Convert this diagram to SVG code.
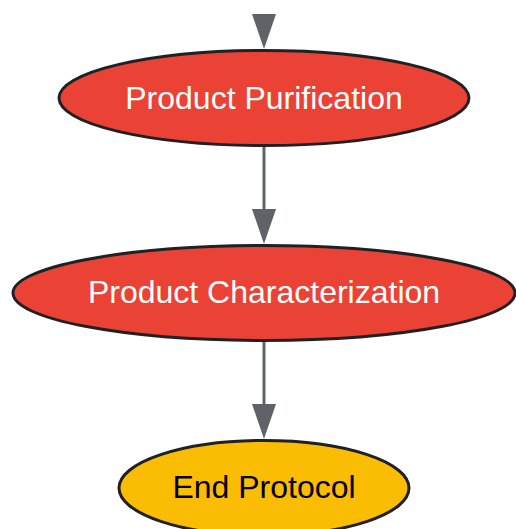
<svg xmlns="http://www.w3.org/2000/svg" width="516" height="529" viewBox="0 0 516 529">
<style>
.n{stroke:#202124;stroke-width:3}
.red{fill:#EA4335}
.yel{fill:#FBBC04}
.t{font-family:"Liberation Sans",Arial,sans-serif;font-size:32px;text-anchor:middle;dominant-baseline:central}
.e{stroke:#5F6368;stroke-width:3;fill:none}
.h{fill:#5F6368}
</style>
<g id="edges">
<polygon points="252,14 276,14 264,49" class="h"/>
<line x1="264" y1="146" x2="264" y2="212" class="e"/>
<polygon points="252,209 276,209 264,244" class="h"/>
<line x1="264" y1="341" x2="264" y2="407" class="e"/>
<polygon points="252,404 276,404 264,439" class="h"/>
</g>
<g id="purification">
<ellipse cx="264" cy="98" rx="205" ry="47.5" class="n red"/>
<text x="264" y="98" class="t" fill="#FFFFFF">Product Purification</text>
</g>
<g id="characterization">
<ellipse cx="264" cy="293" rx="251" ry="47.5" class="n red"/>
<text x="264" y="292" class="t" fill="#FFFFFF">Product Characterization</text>
</g>
<g id="end">
<ellipse cx="264" cy="488" rx="145" ry="47.5" class="n yel"/>
<text x="264" y="487" class="t" fill="#000000">End Protocol</text>
</g>
</svg>
